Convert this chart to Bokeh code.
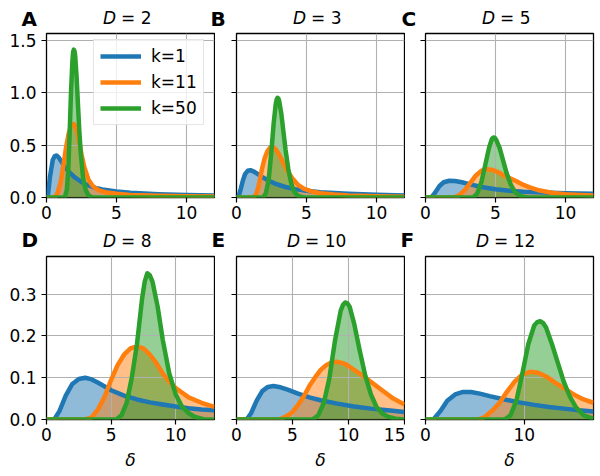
from bokeh.plotting import figure
from bokeh.layouts import row, column
from bokeh.models import (Range1d, FixedTicker, NumeralTickFormatter, CustomJSTickFormatter,
                          Label, Legend, LegendItem)
from bokeh.embed import file_html
from bokeh.resources import INLINE

# ---------------- data ----------------
series_labels = ["k=1", "k=11", "k=50"]
dims = [2, 3, 5, 8, 10, 12]
letters = ["A", "B", "C", "D", "E", "F"]
x_max = [12, 12, 12, 13, 15, 17]
x_ticks = [[0, 5, 10], [0, 5, 10], [0, 5, 10], [0, 5, 10], [0, 5, 10, 15], [0, 10]]
y_ticks_top = [0, 0.5, 1.0, 1.5]
y_ticks_bottom = [0, 0.1, 0.2, 0.3]
y_max_top = 1.563
y_max_bottom = 0.39
x_label = "δ"

# D = 2
d2_k1_x = [0, 0.1, 0.25, 0.45, 0.6, 0.72, 0.85, 1.05, 1.3, 1.6, 2.0, 2.5, 3.0, 3.5, 4.0, 5.0, 6.0, 7.0, 8.0, 10.0, 12.0]
d2_k1_y = [0, 0.02, 0.2, 0.36, 0.397, 0.40, 0.385, 0.345, 0.295, 0.245, 0.195, 0.148, 0.115, 0.092, 0.077, 0.057, 0.046, 0.038, 0.032, 0.025, 0.02]
d2_k11_x = [0, 0.6, 0.8, 1.0, 1.2, 1.4, 1.6, 1.8, 1.95, 2.1, 2.3, 2.5, 2.7, 3.0, 3.3, 3.7, 4.2, 5.0, 6.0, 8.0, 10.0, 12.0]
d2_k11_y = [0, 0, 0.05, 0.14, 0.3, 0.48, 0.62, 0.69, 0.70, 0.67, 0.56, 0.41, 0.29, 0.17, 0.11, 0.07, 0.05, 0.035, 0.025, 0.016, 0.012, 0.01]
d2_k50_x = [0, 1.3, 1.45, 1.55, 1.65, 1.75, 1.85, 1.9, 1.95, 2.0, 2.05, 2.15, 2.25, 2.35, 2.45, 2.6, 2.8, 3.0, 3.3, 12.0]
d2_k50_y = [0, 0, 0.07, 0.25, 0.6, 1.0, 1.3, 1.385, 1.41, 1.395, 1.35, 1.15, 0.88, 0.62, 0.42, 0.2, 0.07, 0.02, 0, 0]

# D = 3
d3_k1_x = [0, 0.15, 0.3, 0.45, 0.6, 0.8, 1.0, 1.2, 1.5, 1.9, 2.3, 2.8, 3.5, 4.2, 5.0, 6.0, 7.0, 8.0, 10.0, 12.0]
d3_k1_y = [0, 0.01, 0.08, 0.16, 0.22, 0.255, 0.26, 0.25, 0.225, 0.19, 0.16, 0.13, 0.1, 0.08, 0.065, 0.05, 0.042, 0.035, 0.026, 0.02]
d3_k11_x = [0, 1.2, 1.4, 1.6, 1.8, 2.0, 2.2, 2.4, 2.6, 2.8, 3.0, 3.3, 3.6, 4.0, 4.4, 4.8, 5.3, 6.0, 7.0, 8.0, 10.0, 12.0]
d3_k11_y = [0, 0, 0.03, 0.12, 0.26, 0.37, 0.44, 0.475, 0.48, 0.46, 0.42, 0.34, 0.26, 0.18, 0.12, 0.085, 0.06, 0.04, 0.028, 0.02, 0.012, 0.008]
d3_k50_x = [0, 1.9, 2.1, 2.3, 2.5, 2.65, 2.8, 2.87, 2.93, 2.99, 3.05, 3.2, 3.35, 3.5, 3.7, 3.9, 4.1, 4.4, 4.8, 12.0]
d3_k50_y = [0, 0, 0.04, 0.17, 0.45, 0.7, 0.89, 0.935, 0.95, 0.945, 0.92, 0.8, 0.63, 0.46, 0.27, 0.14, 0.06, 0.015, 0, 0]

# D = 5
d5_k1_x = [0, 0.4, 0.6, 0.8, 1.0, 1.3, 1.7, 2.1, 2.6, 3.2, 4.0, 5.0, 6.0, 7.0, 8.0, 10.0, 12.0]
d5_k1_y = [0, 0, 0.03, 0.07, 0.11, 0.145, 0.16, 0.158, 0.145, 0.125, 0.1, 0.078, 0.064, 0.055, 0.049, 0.041, 0.035]
d5_k11_x = [0, 2.0, 2.4, 2.8, 3.2, 3.6, 4.0, 4.4, 4.8, 5.2, 5.6, 6.0, 6.5, 7.0, 7.5, 8.0, 9.0, 10.0, 11.0, 12.0]
d5_k11_y = [0, 0, 0.02, 0.07, 0.14, 0.21, 0.255, 0.27, 0.262, 0.24, 0.21, 0.185, 0.155, 0.12, 0.095, 0.072, 0.045, 0.032, 0.025, 0.02]
d5_k50_x = [0, 3.4, 3.7, 4.0, 4.3, 4.55, 4.75, 4.86, 4.95, 5.05, 5.3, 5.55, 5.8, 6.1, 6.4, 6.8, 7.3, 12.0]
d5_k50_y = [0, 0, 0.04, 0.15, 0.33, 0.48, 0.56, 0.572, 0.568, 0.55, 0.47, 0.35, 0.23, 0.12, 0.05, 0.012, 0, 0]

# D = 8
d8_k1_x = [0, 0.6, 1.0, 1.5, 2.0, 2.5, 3.0, 3.5, 4.0, 5.0, 6.0, 7.0, 8.0, 9.0, 10.0, 11.0, 12.0, 13.0]
d8_k1_y = [0, 0, 0.02, 0.058, 0.085, 0.097, 0.1, 0.096, 0.088, 0.07, 0.057, 0.048, 0.041, 0.036, 0.031, 0.027, 0.024, 0.022]
d8_k11_x = [0, 3.0, 3.5, 4.0, 4.5, 5.0, 5.5, 6.0, 6.5, 7.0, 7.5, 8.0, 8.5, 9.0, 9.5, 10.0, 11.0, 12.0, 13.0]
d8_k11_y = [0, 0, 0.005, 0.025, 0.055, 0.095, 0.13, 0.155, 0.17, 0.175, 0.17, 0.155, 0.135, 0.11, 0.09, 0.075, 0.053, 0.04, 0.03]
d8_k50_x = [0, 5.4, 5.8, 6.2, 6.6, 7.0, 7.4, 7.6, 7.8, 8.0, 8.2, 8.6, 9.0, 9.5, 10.0, 10.5, 11.0, 11.5, 12.2, 13.0]
d8_k50_y = [0, 0, 0.01, 0.04, 0.1, 0.18, 0.29, 0.33, 0.35, 0.345, 0.33, 0.27, 0.19, 0.11, 0.06, 0.03, 0.015, 0.006, 0, 0]

# D = 10
d10_k1_x = [0, 0.9, 1.3, 1.8, 2.3, 2.8, 3.3, 3.8, 4.5, 5.5, 6.5, 7.5, 9.0, 10.5, 12.0, 13.5, 15.0]
d10_k1_y = [0, 0, 0.015, 0.045, 0.068, 0.078, 0.08, 0.078, 0.072, 0.062, 0.053, 0.046, 0.038, 0.031, 0.026, 0.022, 0.018]
d10_k11_x = [0, 3.8, 4.5, 5.0, 5.5, 6.0, 6.5, 7.0, 7.5, 8.0, 8.5, 9.0, 9.5, 10.0, 11.0, 12.0, 13.0, 14.0, 15.0]
d10_k11_y = [0, 0, 0.008, 0.018, 0.035, 0.055, 0.08, 0.1, 0.118, 0.13, 0.137, 0.138, 0.135, 0.128, 0.11, 0.09, 0.07, 0.05, 0.036]
d10_k50_x = [0, 6.8, 7.3, 7.8, 8.3, 8.8, 9.3, 9.5, 9.7, 9.9, 10.1, 10.5, 11.0, 11.5, 12.0, 12.5, 13.0, 13.5, 14.2, 15.0]
d10_k50_y = [0, 0, 0.01, 0.04, 0.1, 0.19, 0.26, 0.274, 0.28, 0.278, 0.27, 0.23, 0.165, 0.105, 0.06, 0.03, 0.015, 0.007, 0.002, 0]

# D = 12
d12_k1_x = [0, 0.8, 1.5, 2.2, 3.0, 3.8, 4.6, 5.5, 6.5, 8.0, 9.5, 11.0, 12.5, 14.0, 15.5, 17.0]
d12_k1_y = [0, 0, 0.02, 0.045, 0.06, 0.066, 0.066, 0.062, 0.056, 0.048, 0.041, 0.035, 0.03, 0.026, 0.022, 0.019]
d12_k11_x = [0, 5.3, 6.0, 6.8, 7.5, 8.2, 9.0, 9.8, 10.6, 11.4, 12.2, 13.0, 14.0, 15.0, 16.0, 17.0]
d12_k11_y = [0, 0, 0.006, 0.022, 0.04, 0.065, 0.09, 0.108, 0.114, 0.112, 0.103, 0.09, 0.075, 0.06, 0.048, 0.04]
d12_k50_x = [0, 8.0, 8.6, 9.2, 9.8, 10.4, 11.0, 11.3, 11.6, 11.9, 12.2, 12.8, 13.4, 14.0, 14.6, 15.2, 16.0, 17.0]
d12_k50_y = [0, 0, 0.01, 0.045, 0.11, 0.18, 0.225, 0.233, 0.235, 0.231, 0.22, 0.18, 0.135, 0.09, 0.055, 0.03, 0.01, 0.002]

curves = [
    [(d2_k1_x, d2_k1_y), (d2_k11_x, d2_k11_y), (d2_k50_x, d2_k50_y)],
    [(d3_k1_x, d3_k1_y), (d3_k11_x, d3_k11_y), (d3_k50_x, d3_k50_y)],
    [(d5_k1_x, d5_k1_y), (d5_k11_x, d5_k11_y), (d5_k50_x, d5_k50_y)],
    [(d8_k1_x, d8_k1_y), (d8_k11_x, d8_k11_y), (d8_k50_x, d8_k50_y)],
    [(d10_k1_x, d10_k1_y), (d10_k11_x, d10_k11_y), (d10_k50_x, d10_k50_y)],
    [(d12_k1_x, d12_k1_y), (d12_k11_x, d12_k11_y), (d12_k50_x, d12_k50_y)],
]

# ---------------- styling / layout ----------------
FONT = "DejaVu Sans"
COLORS = ["#1f77b4", "#ff7f0e", "#2ca02c"]
FW = 168
TOTAL_W = 600
BORDER_L = [46, 21, 20]
BORDER_R = [1, 1, 7]
FRAME_LEFTS = [46, 236, 425]
LETTER_X = [[21, 210, 401], [21, 211, 400]]


def build(i):
    r, c = divmod(i, 3)
    top = r == 0
    fh = 164 if top else 163
    bb = 28 if top else 56
    ymax = y_max_top if top else y_max_bottom
    p = figure(frame_width=FW, frame_height=fh,
               min_border_left=BORDER_L[c], min_border_right=BORDER_R[c],
               min_border_top=1, min_border_bottom=bb,
               x_range=Range1d(0, x_max[i]), y_range=Range1d(0, ymax),
               output_backend="svg", toolbar_location=None)
    p.background_fill_color = "white"
    p.border_fill_color = "white"
    p.outline_line_color = "black"
    p.outline_line_width = 1.3
    p.outline_line_alpha = 1.0

    p.xaxis.ticker = FixedTicker(ticks=x_ticks[i])
    p.yaxis.ticker = FixedTicker(ticks=y_ticks_top if top else y_ticks_bottom)
    if c == 0:
        p.yaxis.formatter = NumeralTickFormatter(format="0.0")
    else:
        p.yaxis.formatter = CustomJSTickFormatter(code="return ''")
    for ax in (p.xaxis[0], p.yaxis[0]):
        ax.axis_line_color = None
        ax.major_tick_out = 5
        ax.major_tick_in = 0
        ax.major_tick_line_color = "black"
        ax.major_tick_line_width = 1.2
        ax.minor_tick_line_color = None
        ax.major_label_text_font = FONT
        ax.major_label_text_font_size = "17px"
        ax.major_label_text_color = "black"
    p.xaxis.major_label_standoff = 3
    p.yaxis.major_label_standoff = 5
    if not top:
        p.xaxis.axis_label = x_label
        p.xaxis.axis_label_text_font = FONT
        p.xaxis.axis_label_text_font_style = "italic"
        p.xaxis.axis_label_text_font_size = "17px"
        p.xaxis.axis_label_text_color = "black"
        p.xaxis.axis_label_standoff = 6

    p.grid.grid_line_color = "#b0b0b0"
    p.grid.grid_line_width = 1.1

    for col, (xs, ys) in zip(COLORS, curves[i]):
        p.varea(x=xs, y1=0, y2=ys, fill_color=col, fill_alpha=0.5, level="image")
    rends = []
    for col, (xs, ys) in zip(COLORS, curves[i]):
        rends.append(p.line(xs, ys, line_color=col, line_width=4.5, line_join="round"))

    if i == 0:
        legend = Legend(items=[LegendItem(label=lab, renderers=[rr]) for lab, rr in zip(series_labels, rends)],
                        location=(47, 72), margin=0, padding=6, spacing=6,
                        glyph_width=41, glyph_height=20, label_height=20, label_standoff=10,
                        label_text_font=FONT, label_text_font_size="17px", label_text_color="black",
                        border_line_color="#cccccc", border_line_width=1,
                        background_fill_color="white", background_fill_alpha=0.8)
        p.add_layout(legend)
    return p


def header(r, h, title_mid, letter_mid):
    hp = figure(width=TOTAL_W, height=h, x_range=Range1d(0, TOTAL_W), y_range=Range1d(0, h),
                min_border=0, x_axis_type=None, y_axis_type=None,
                output_backend="svg", toolbar_location=None)
    hp.grid.visible = False
    hp.outline_line_color = None
    hp.background_fill_color = "white"
    hp.border_fill_color = "white"
    for c in range(3):
        i = r * 3 + c
        hp.add_layout(Label(x=LETTER_X[r][c], y=letter_mid, x_units="screen", y_units="screen",
                            text=letters[i], text_font=FONT, text_font_style="bold",
                            text_font_size="20px", text_baseline="middle", text_align="left",
                            text_color="black"))
        nd = len(str(dims[i]))
        w = 43 + 12 * nd
        x0 = FRAME_LEFTS[c] + FW / 2 - w / 2
        hp.add_layout(Label(x=x0, y=title_mid, x_units="screen", y_units="screen", text="D",
                            text_font=FONT, text_font_style="italic", text_font_size="17px",
                            text_baseline="middle", text_align="left", text_color="black"))
        hp.add_layout(Label(x=x0 + 18, y=title_mid, x_units="screen", y_units="screen",
                            text="= %d" % dims[i], text_font=FONT, text_font_size="17px",
                            text_baseline="middle", text_align="left", text_color="black"))
    return hp


figs = [build(i) for i in range(6)]
h1 = header(0, 32, 15, 13.5)
h2 = header(1, 30, 15, 15.5)
layout = column(h1, row(*figs[:3], spacing=0), h2, row(*figs[3:], spacing=0), spacing=0)
open("out.html", "w").write(file_html(layout, INLINE))
